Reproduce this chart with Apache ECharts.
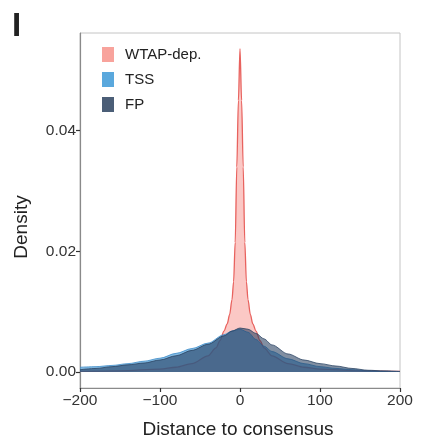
<!DOCTYPE html>
<html>
<head>
<meta charset="utf-8">
<title>Distance to consensus density</title>
<script src="https://cdn.jsdelivr.net/npm/echarts@6/dist/echarts.min.js"></script>
<style>
  html, body { margin: 0; padding: 0; background: #fff; }
  #chart { width: 422px; height: 443px; }
</style>
</head>
<body>
<div id="chart"></div>
<script>
// series names
const seriesNames = ['WTAP-dep.', 'TSS', 'FP'];

// WTAP-dep. density (sharp peak, needs fine spacing near 0)
const wtapDist = [-200, -150, -100, -80, -60, -40, -30, -25, -20, -16, -13, -10, -8, -6, -4, -2, 0,
                  2, 4, 6, 8, 10, 13, 16, 20, 25, 30, 40, 60, 80, 100, 150, 200];
const wtapDens = [0.0001, 0.0002, 0.0005, 0.0008, 0.0014, 0.0027, 0.0040, 0.0052, 0.0068, 0.0080, 0.0095, 0.0120, 0.0150, 0.0215, 0.0340, 0.0450, 0.0536,
                  0.0450, 0.0340, 0.0215, 0.0150, 0.0120, 0.0095, 0.0080, 0.0068, 0.0052, 0.0040, 0.0027, 0.0014, 0.0008, 0.0005, 0.0002, 0.0001];

// TSS and FP share one distance grid
const broadDist = [-200, -180, -160, -140, -120, -100, -80, -60, -40, -20, -10, 0,
                   10, 20, 30, 40, 60, 80, 100, 120, 140, 160, 180, 200];
const tssDens = [0.0008, 0.0009, 0.0011, 0.0014, 0.0018, 0.0023, 0.0031, 0.0039, 0.0048, 0.0062, 0.0068, 0.0071,
                 0.0066, 0.0054, 0.0043, 0.0034, 0.0022, 0.0014, 0.0009, 0.0006, 0.0004, 0.0002, 0.0001, 0.0001];
const fpDens = [0.0004, 0.0006, 0.0009, 0.0012, 0.0015, 0.0020, 0.0027, 0.0036, 0.0046, 0.0060, 0.0068, 0.0073,
                0.0071, 0.0064, 0.0055, 0.0045, 0.0030, 0.0020, 0.0014, 0.0010, 0.0006, 0.0003, 0.0002, 0.0001];

// axis ticks
const xTicks = [-200, -100, 0, 100, 200];
const yTicks = [0, 0.02, 0.04];

function pairs(xs, ys) {
    return xs.map((x, i) => [x, ys[i]]);
}

const chart = echarts.init(document.getElementById('chart'));

const axisColor = '#8a8a8a';
const labelColor = '#333';
const fontFam = 'Liberation Sans, Arial, sans-serif';

chart.setOption({
    animation: false,
    backgroundColor: '#fff',
    grid: {
        left: 80, right: 22, top: 33, bottom: 55,
        show: true,
        borderColor: '#c4c4c4',
        borderWidth: 1
    },
    legend: {
        orient: 'vertical',
        left: 102, top: 47,
        padding: 0,
        itemWidth: 12, itemHeight: 15,
        itemGap: 10,
        icon: 'rect',
        textStyle: { fontFamily: fontFam, fontSize: 15, color: '#222', padding: [0, 0, 0, 6] },
        data: [
            { name: seriesNames[0], itemStyle: { color: '#f8a39c' } },
            { name: seriesNames[1], itemStyle: { color: '#5aa8dd' } },
            { name: seriesNames[2], itemStyle: { color: '#4b5e77' } }
        ]
    },
    xAxis: {
        type: 'value',
        min: -200, max: 200, interval: 100,
        axisLine: { show: true, onZero: false, lineStyle: { color: axisColor, width: 1.2 } },
        axisTick: { show: true, length: 4, lineStyle: { color: '#333', width: 1.2 } },
        axisLabel: {
            margin: 5,
            fontFamily: fontFam, fontSize: 15.5, color: labelColor,
            formatter: v => String(v).replace('-', '\u2212')
        },
        splitLine: { show: false }
    },
    yAxis: {
        type: 'value',
        min: -0.00264, max: 0.0562,
        axisLine: { show: true, onZero: false, lineStyle: { color: axisColor, width: 1.2 } },
        axisTick: { show: true, length: 4, customValues: yTicks, lineStyle: { color: '#333', width: 1.2 } },
        axisLabel: {
            margin: 4,
            customValues: yTicks,
            fontFamily: fontFam, fontSize: 15.5, color: labelColor,
            formatter: v => v.toFixed(2)
        },
        splitLine: { show: false }
    },
    graphic: [
        { type: 'text', left: 12, top: 10, style: { text: 'I', fontFamily: fontFam, fontSize: 33, fontWeight: 'bold', fill: '#222' } },
        { type: 'text', x: 22, y: 227, rotation: Math.PI / 2,
          style: { text: 'Density', fontFamily: fontFam, fontSize: 19, fill: '#222', align: 'center', verticalAlign: 'middle' } },
        { type: 'text', x: 238, y: 430,
          style: { text: 'Distance to consensus', fontFamily: fontFam, fontSize: 19, fill: '#222', align: 'center', verticalAlign: 'middle' } }
    ],
    series: [
        {
            name: seriesNames[0], type: 'line',
            data: pairs(wtapDist, wtapDens),
            showSymbol: false, smooth: 0.3, smoothMonotone: 'x',
            lineStyle: { color: '#e8625e', width: 1.3 },
            areaStyle: { color: 'rgba(245,128,122,0.62)', origin: 0 },
            itemStyle: { color: '#f8a39c' },
            z: 2
        },
        {
            name: seriesNames[1], type: 'line',
            data: pairs(broadDist, tssDens),
            showSymbol: false, smooth: 0.3, smoothMonotone: 'x',
            lineStyle: { color: '#3d8cc8', width: 0.8 },
            areaStyle: { color: 'rgba(70,152,212,0.95)', origin: 0 },
            itemStyle: { color: '#5aa8dd' },
            z: 3
        },
        {
            name: seriesNames[2], type: 'line',
            data: pairs(broadDist, fpDens),
            showSymbol: false, smooth: 0.3, smoothMonotone: 'x',
            lineStyle: { color: '#2a4262', width: 0.8 },
            areaStyle: { color: 'rgba(30,55,90,0.8)', origin: 0 },
            itemStyle: { color: '#4b5e77' },
            z: 4
        }
    ]
});
</script>
</body>
</html>
